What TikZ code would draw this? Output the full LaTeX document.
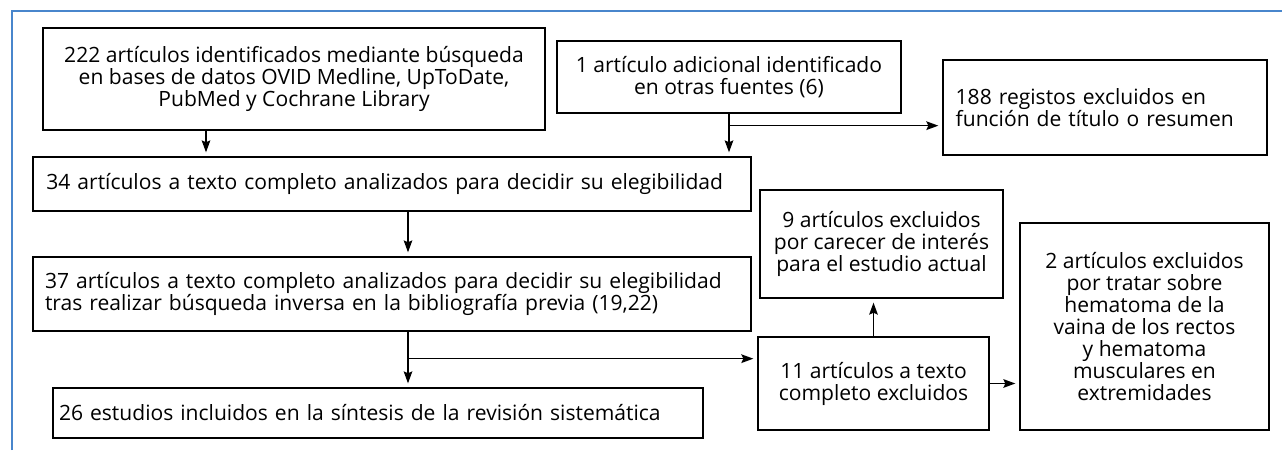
\documentclass[tikz,border=0pt]{standalone}
\usepackage{fontspec}
\setmainfont{Open Sans}
\usetikzlibrary{calc}
\usetikzlibrary{arrows.meta}
\definecolor{frameblue}{RGB}{72,134,204}
\tikzset{
    % Arrow heads close to the ones of the flow chart
    >={Stealth[length=9pt, width=6.5pt, inset=1.5pt]},
%
    % Plain framed box of the flow chart
    flow box/.style={
        draw, line width=1pt, inner ysep=2pt,
        font=\fontsize{15.8}{16.5}\selectfont},
%
    % Connectors between the boxes
    flow line/.style={line width=1pt, ->, shorten >=3pt},
%
    % Blue frame round the whole figure
    frame line/.style={draw=frameblue, line width=1.6pt}}

\begin{document}
\begin{tikzpicture}[x=0.75pt, y=-0.75pt]

\useasboundingbox (0,0) rectangle (1282,450);
\draw [frame line] (12,450) -- (12,11) -- (1282,11);

\node (search) [flow box, align=center,
        minimum width=376.5pt, minimum height=76.5pt] at (294,79)
    {222 artículos identificados mediante búsqueda\\en bases de datos OVID Medline, UpToDate,\\PubMed y Cochrane Library};
\node (other) [flow box, align=center,
        minimum width=258pt, minimum height=54pt] at (729,77)
    {1 artículo adicional identificado\\en otras fuentes (6)};
\node (screened) [flow box, align=left, inner xsep=9.5pt,
        text width=224pt, minimum height=71.25pt] at (1105,107.5)
    {188 registos excluidos en\\función de título o resumen};
\node (fulltext) [flow box, align=left, inner xsep=10pt,
        text width=518.5pt, minimum height=40.5pt] at (392,184)
    {34 artículos a texto completo analizados para decidir su elegibilidad};
\node (reverse) [flow box, align=left, inner xsep=9pt,
        text width=520.5pt, minimum height=55.5pt] at (392,294)
    {37 artículos a texto completo analizados para decidir su elegibilidad\\tras realizar búsqueda inversa en la bibliografía previa (19,22)};
\node (included) [flow box, align=left, inner xsep=4.5pt,
        text width=478.5pt, minimum height=37.5pt] at (378,413)
    {26 estudios incluidos en la síntesis de la revisión sistemática};
\node (excluded) [flow box, align=center,
        minimum width=173.25pt, minimum height=69.75pt] at (873.5,383.5)
    {11 artículos a texto\\completo excluidos};
\node (interest) [flow box, align=center,
        minimum width=182.25pt, minimum height=81pt] at (881.5,244)
    {9 artículos excluidos\\por carecer de interés\\para el estudio actual};
\node (hematoma) [flow box, align=center,
        minimum width=186.75pt, minimum height=155.25pt] at (1144.5,326.5)
    {2 artículos excluidos\\por tratar sobre\\hematoma de la\\vaina de los rectos\\y hematoma\\musculares en\\extremidades};

\coordinate (searchOut) at ($(search.south)+(-88,0)$);
\draw [flow line] (searchOut) -- (searchOut |- fulltext.north);

\coordinate (otherSplit) at ($(other.south)+(0,12)$);
\draw [flow line] (other.south) -- (other.south |- fulltext.north);
\draw [flow line] (otherSplit) -- (otherSplit -| screened.west);

\coordinate (fullOut) at ($(fulltext.south)+(16,0)$);
\draw [flow line] (fullOut) -- (fullOut |- reverse.north);

\coordinate (reverseOut) at ($(reverse.south)+(16,0)$);
\coordinate (reverseSplit) at ($(reverseOut)+(0,27)$);
\draw [flow line] (reverseOut) -- (reverseOut |- included.north);
\draw [flow line] (reverseSplit) -- (reverseSplit -| excluded.west);

\draw [flow line] (excluded.north) -- (excluded.north |- interest.south);
\draw [flow line] (excluded.east) -- (excluded.east -| hematoma.west);

\end{tikzpicture}
\end{document}
